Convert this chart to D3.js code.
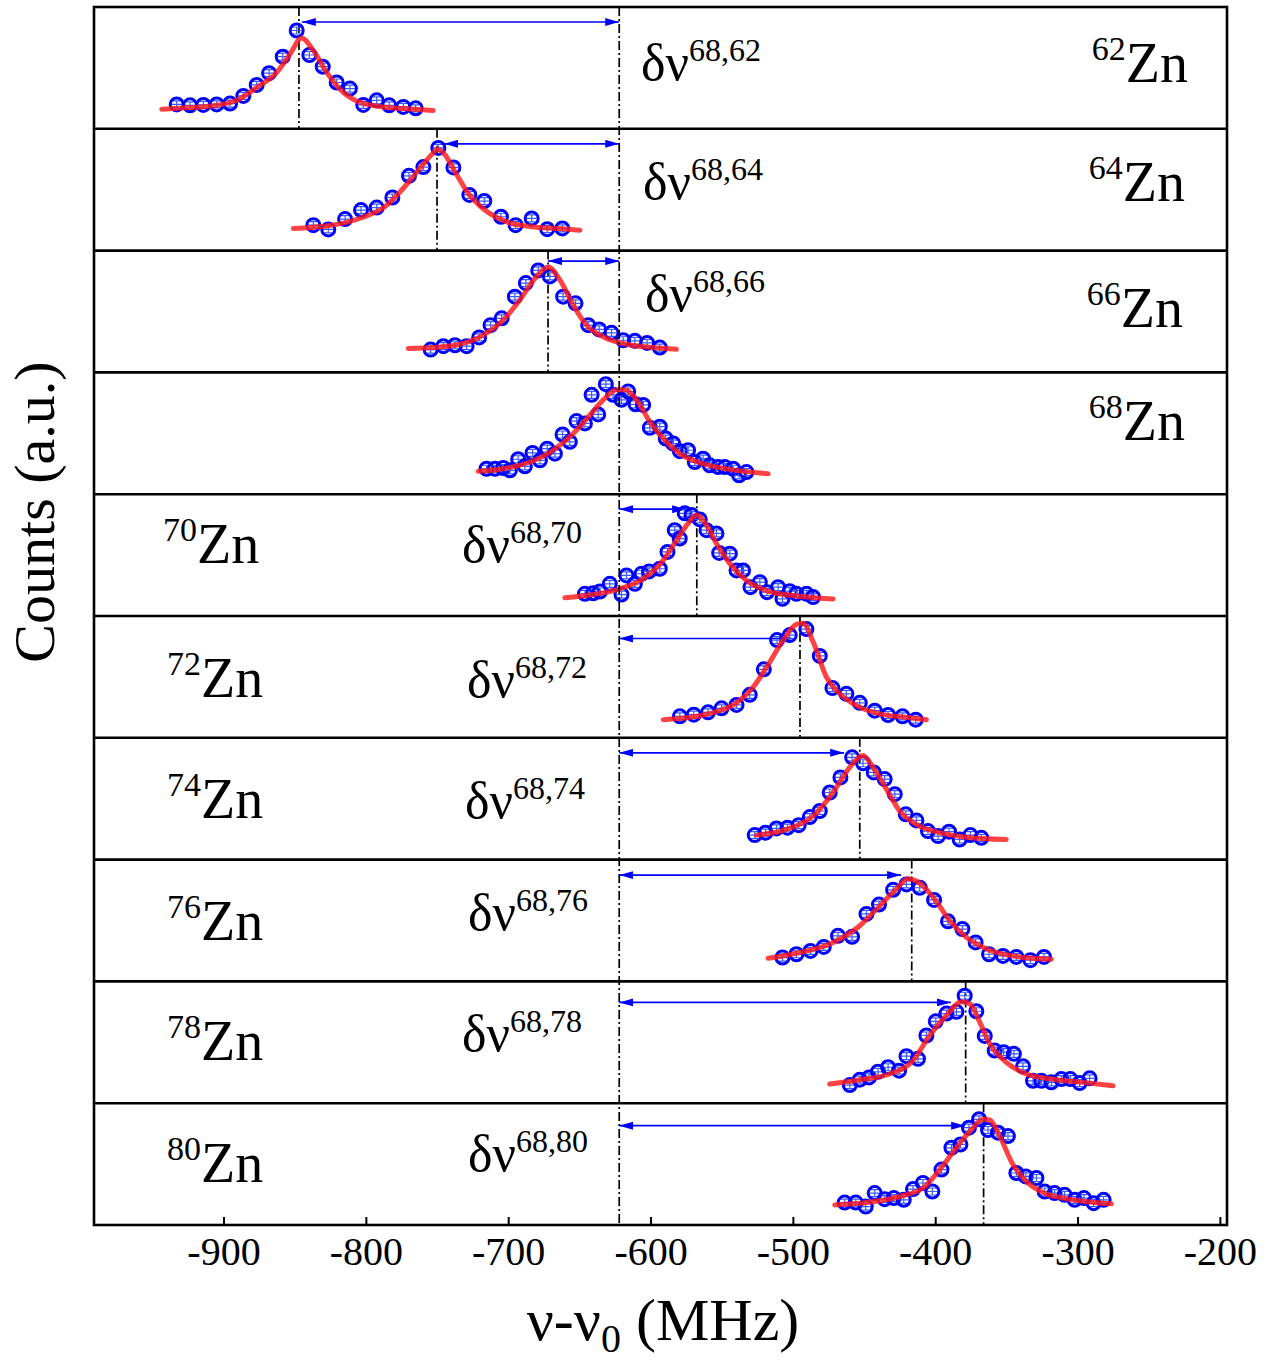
<!DOCTYPE html>
<html>
<head>
<meta charset="utf-8">
<script src="https://cdn.jsdelivr.net/npm/d3@7"></script>
<style>
  body { margin: 0; background: #fff; }
  svg { display: block; font-family: "Liberation Serif", "Times New Roman", serif; }
</style>
</head>
<body>
<div id="chart"></div>
<script>
// DATA
// isotopes, top panel to bottom panel
const isotopes = ['62', '64', '66', '68', '70', '72', '74', '76', '78', '80'];

// fitted peak centres (MHz) and the 68Zn reference
const peakCenters = [-847, -750, -672, -622, -567.5, -495, -453, -416.5, -378.6, -366];
const refCenter = -622;
// where each shift arrow stops on the peak side (MHz), null = no arrow
const arrowEnds = [-845, -745, -672, null, -575, -500, -464, -424, -389, -379];

// scan points [frequency MHz, counts a.u.]
const scan62 = [[-932.9,.200],[-923.5,.193],[-914.2,.196],[-904.8,.200],[-895.4,.207],[-886.1,.270],[-876.7,.360],[-868.0,.457],[-858.4,.592],[-848.6,.807],[-839.7,.606],[-830.3,.510],[-820.5,.380],[-811.2,.330],[-801.8,.196],[-792.4,.234],[-783.6,.193],[-773.7,.180],[-765.0,.168]];
const scan64 = [[-836.9,.209],[-826.4,.174],[-814.6,.259],[-803.4,.333],[-792.4,.353],[-781.4,.436],[-769.7,.614],[-759.6,.686],[-749.1,.843],[-738.5,.683],[-727.3,.457],[-716.8,.407],[-705.1,.278],[-694.8,.209],[-683.5,.264],[-672.6,.176],[-662.0,.182]];
const scan66 = [[-754.5,.187],[-745.6,.215],[-737.4,.223],[-729.2,.215],[-720.4,.287],[-712.4,.388],[-704.6,.444],[-695.3,.622],[-687.6,.733],[-678.9,.837],[-670.7,.788],[-661.4,.622],[-652.7,.567],[-643.8,.388],[-636.1,.353],[-627.4,.325],[-619.2,.264],[-611.0,.259],[-602.4,.242],[-593.5,.204]];
const scan68 = [[-715.2,.209],[-709.3,.209],[-703.5,.215],[-698.8,.196],[-693.0,.287],[-688.3,.229],[-682.9,.339],[-677.7,.278],[-672.6,.374],[-667.2,.333],[-661.8,.490],[-656.7,.430],[-652.0,.600],[-646.1,.581],[-641.4,.816],[-636.8,.655],[-631.4,.903],[-626.3,.816],[-620.4,.775],[-615.7,.843],[-610.5,.738],[-605.2,.733],[-600.5,.545],[-593.5,.554],[-589.3,.457],[-584.1,.416],[-579.4,.353],[-573.6,.361],[-568.9,.264],[-563.1,.292],[-558.4,.237],[-552.5,.223],[-547.8,.223],[-542.0,.209],[-537.8,.155],[-532.6,.182]];
const scan70 = [[-646.1,.182],[-640.3,.187],[-635.6,.201],[-628.6,.264],[-620.4,.176],[-616.9,.333],[-611.0,.264],[-606.3,.347],[-601.0,.366],[-593.5,.388],[-588.1,.526],[-583.0,.705],[-579.5,.636],[-576.0,.843],[-571.2,.829],[-565.4,.793],[-560.7,.705],[-553.7,.678],[-551.8,.518],[-544.3,.512],[-539.6,.374],[-535.0,.374],[-529.8,.237],[-523.2,.278],[-518.1,.196],[-510.4,.237],[-507.3,.141],[-502.2,.204],[-497.5,.182],[-490.4,.182],[-485.8,.155]];
const scan72 = [[-579.4,.176],[-569.6,.190],[-559.6,.209],[-550.1,.242],[-539.6,.270],[-530.3,.353],[-520.4,.562],[-511.1,.802],[-502.2,.843],[-490.5,.893],[-481.1,.672],[-472.2,.408],[-462.4,.361],[-453.0,.287],[-442.5,.223],[-433.1,.187],[-423.0,.176],[-413.7,.149]];
const scan74 = [[-526.8,.201],[-519.2,.221],[-511.5,.256],[-503.8,.262],[-495.9,.283],[-488.1,.349],[-481.1,.399],[-474.1,.551],[-466.6,.675],[-458.4,.840],[-450.7,.791],[-443.2,.716],[-435.5,.661],[-428.4,.537],[-420.7,.372],[-413.2,.322],[-405.1,.234],[-398.0,.193],[-390.3,.229],[-382.8,.165],[-375.3,.201],[-367.6,.179]];
const scan76 = [[-507.3,.196],[-497.5,.223],[-487.6,.250],[-478.3,.283],[-468.3,.374],[-458.4,.366],[-448.3,.554],[-439.5,.631],[-429.6,.752],[-420.2,.796],[-410.9,.769],[-400.8,.669],[-391.0,.493],[-380.9,.430],[-371.6,.320],[-362.2,.223],[-352.4,.209],[-343.0,.201],[-333.1,.174],[-323.6,.201]];
const scan78 = [[-460.0,.149],[-453.0,.193],[-446.5,.212],[-440.2,.258],[-433.1,.295],[-425.4,.267],[-420.2,.386],[-412.1,.364],[-406.2,.556],[-399.6,.672],[-392.1,.736],[-385.1,.750],[-379.3,.882],[-371.1,.755],[-365.2,.552],[-358.2,.432],[-351.9,.419],[-344.7,.405],[-338.3,.303],[-331.3,.184],[-325.4,.184],[-318.4,.171],[-311.4,.198],[-305.1,.198],[-298.5,.165],[-291.5,.204]];
const scan80 = [[-463.6,.184],[-455.8,.184],[-448.8,.151],[-442.5,.262],[-435.5,.212],[-429.1,.221],[-422.1,.207],[-415.6,.295],[-408.6,.345],[-402.0,.275],[-395.6,.455],[-388.6,.634],[-382.3,.661],[-376.3,.799],[-369.2,.868],[-362.9,.780],[-355.9,.758],[-348.9,.730],[-343.0,.427],[-336.4,.399],[-328.9,.386],[-323.1,.275],[-316.1,.262],[-309.1,.248],[-302.0,.207],[-295.5,.221],[-288.7,.179],[-281.7,.207]];

// fit curves [frequency MHz, counts a.u.]
const fit62 = [[-943.4,.160],[-923.5,.174],[-904.8,.193],[-890.7,.234],[-876.7,.339],[-862.6,.463],[-853.3,.614],[-845.1,.746],[-836.9,.642],[-827.5,.463],[-818.2,.325],[-806.5,.229],[-787.8,.179],[-769.1,.163],[-752.7,.151]];
const fit64 = [[-851.0,.182],[-826.4,.204],[-803.0,.270],[-786.6,.361],[-772.6,.526],[-760.9,.692],[-753.8,.788],[-749.6,.835],[-744.5,.788],[-737.5,.650],[-728.1,.471],[-716.4,.333],[-702.4,.242],[-683.6,.196],[-664.9,.182],[-649.6,.168]];
const fit66 = [[-770.2,.196],[-752.7,.204],[-734.0,.231],[-717.6,.306],[-703.5,.430],[-691.8,.595],[-680.1,.788],[-671.9,.865],[-663.7,.760],[-654.4,.554],[-645.0,.388],[-633.3,.292],[-616.9,.231],[-598.2,.204],[-581.8,.190]];
const fit68 = [[-721.0,.188],[-703.5,.209],[-684.7,.264],[-668.4,.361],[-654.3,.498],[-642.6,.650],[-633.2,.774],[-623.9,.857],[-618.0,.857],[-609.8,.774],[-600.5,.595],[-591.1,.457],[-579.4,.333],[-563.1,.250],[-544.4,.204],[-517.4,.168]];
const fit70 = [[-660.2,.149],[-640.3,.176],[-621.6,.223],[-605.2,.306],[-591.1,.457],[-581.7,.622],[-573.6,.760],[-567.7,.829],[-560.7,.746],[-553.7,.595],[-544.3,.430],[-532.6,.292],[-518.5,.209],[-499.8,.168],[-471.7,.140]];
const fit72 = [[-591.1,.149],[-572.4,.168],[-553.6,.215],[-539.6,.287],[-527.9,.416],[-516.2,.622],[-506.8,.802],[-497.5,.931],[-492.8,.940],[-485.8,.788],[-476.4,.498],[-467.0,.361],[-455.3,.264],[-438.9,.196],[-420.2,.168],[-406.2,.149]];
const fit74 = [[-525.6,.201],[-504.5,.248],[-485.8,.358],[-471.8,.551],[-460.1,.758],[-450.7,.854],[-443.7,.758],[-434.3,.579],[-425.0,.399],[-413.3,.289],[-396.9,.221],[-378.2,.184],[-350.1,.165]];
const fit76 = [[-517.4,.190],[-495.1,.237],[-471.7,.320],[-453.0,.457],[-438.9,.622],[-427.2,.760],[-419.1,.843],[-412.0,.816],[-401.5,.692],[-389.8,.498],[-378.1,.361],[-361.7,.256],[-340.7,.201],[-318.4,.182]];
const fit78 = [[-474.1,.157],[-453.0,.193],[-432.0,.240],[-415.6,.350],[-403.9,.556],[-392.1,.721],[-381.6,.832],[-375.8,.818],[-368.8,.667],[-361.7,.488],[-350.0,.336],[-336.0,.240],[-314.9,.193],[-296.2,.171],[-275.1,.143]];
const fit80 = [[-470.6,.165],[-448.3,.184],[-424.9,.234],[-408.6,.303],[-396.8,.455],[-385.1,.634],[-374.6,.785],[-366.4,.868],[-361.7,.862],[-354.7,.730],[-345.4,.496],[-336.0,.358],[-324.3,.267],[-305.5,.212],[-276.3,.174]];

const scans = [scan62, scan64, scan66, scan68, scan70, scan72, scan74, scan76, scan78, scan80];
const fits = [fit62, fit64, fit66, fit68, fit70, fit72, fit74, fit76, fit78, fit80];

const xTicks = [-900, -800, -700, -600, -500, -400, -300, -200];

//LAYOUT
const width = 1266, height = 1364;
const frame = {left: 94, right: 1227, top: 7, bottom: 1225};
// arrow height inside each panel (px from panel top)
const arrowOffset = [15, 15, 10.5, 0, 15, 22.5, 15, 15.5, 21, 22.5];
// isotope label: side, x, baseline from panel top
const zaLabel = [
  ['end', 1188, 75], ['end', 1185, 72], ['end', 1183, 76], ['end', 1185, 68],
  ['start', 163, 69], ['start', 167, 81], ['start', 167, 80], ['start', 167, 80], ['start', 167, 79], ['start', 167, 79]
];
// shift label x and baseline from panel top (none for 68)
const shiftLabel = [[641, 73], [643, 70], [645, 60], null, [462, 68], [467, 81], [465, 80], [468, 70], [462, 70], [468, 68]];

const svg = d3.select('#chart').append('svg')
  .attr('width', width)
  .attr('height', height);

const x = d3.scaleLinear().domain([-991, -195]).range([frame.left, frame.right]);
const band = d3.scaleBand().domain(isotopes).range([frame.top, frame.bottom]);
const bh = band.bandwidth();

// arrow heads
const defs = svg.append('defs');
['start', 'end'].forEach(k => {
  defs.append('marker')
    .attr('id', 'head-' + k)
    .attr('viewBox', '0 0 14 8')
    .attr('refX', 14).attr('refY', 4)
    .attr('markerUnits', 'userSpaceOnUse')
    .attr('markerWidth', 14).attr('markerHeight', 8)
    .attr('orient', k === 'start' ? 'auto-start-reverse' : 'auto')
    .append('path')
    .attr('d', 'M0,0 L14,4 L0,8 Z')
    .attr('fill', '#0000ff');
});

const dashDot = '9,3,2,3';

//PANELS
isotopes.forEach((iso, i) => {
  const top = band(iso);
  const y = d3.scaleLinear().domain([0, 1]).range([top + bh, top]);
  const g = svg.append('g');

  // dash-dot line at this peak (68 is the reference line itself)
  if (peakCenters[i] !== refCenter) {
    g.append('line')
      .attr('x1', x(peakCenters[i])).attr('x2', x(peakCenters[i]))
      .attr('y1', top).attr('y2', top + bh)
      .attr('stroke', '#000').attr('stroke-width', 1.7)
      .attr('stroke-dasharray', dashDot);
  }

  // shift arrow to the reference
  if (arrowEnds[i] !== null) {
    g.append('line')
      .attr('x1', x(arrowEnds[i])).attr('x2', x(refCenter))
      .attr('y1', top + arrowOffset[i]).attr('y2', top + arrowOffset[i])
      .attr('stroke', '#0000ff').attr('stroke-width', 1.7)
      .attr('marker-start', 'url(#head-start)')
      .attr('marker-end', 'url(#head-end)');
  }

  // scan points with small error bars
  const pts = g.append('g').selectAll('g').data(scans[i]).join('g')
    .attr('transform', d => `translate(${x(d[0])},${y(d[1])})`);
  pts.append('path')
    .attr('d', 'M-4,-3.5H4M-4,3.5H4M0,-3.5V3.5M-5,0H5')
    .attr('stroke', '#3a5cff').attr('stroke-width', 1.2).attr('fill', 'none');
  pts.append('circle')
    .attr('r', 6.5)
    .attr('fill', 'none')
    .attr('stroke', '#0000ff')
    .attr('stroke-width', 3);

  // fit curve
  g.append('path')
    .datum(fits[i])
    .attr('d', d3.line().x(d => x(d[0])).y(d => y(d[1])).curve(d3.curveMonotoneX))
    .attr('fill', 'none')
    .attr('stroke', '#ff1a1a')
    .attr('stroke-opacity', 0.82)
    .attr('stroke-width', 5)
    .attr('stroke-linecap', 'round');

  // isotope label
  const zl = zaLabel[i];
  const t = g.append('text')
    .attr('x', zl[1]).attr('y', top + zl[2])
    .attr('text-anchor', zl[0])
    .attr('font-size', 56);
  t.append('tspan').attr('font-size', 34).attr('dy', -22).text(iso);
  t.append('tspan').attr('dy', 22).text('Zn');

  // shift label
  if (shiftLabel[i]) {
    const s = g.append('text')
      .attr('x', shiftLabel[i][0]).attr('y', top + shiftLabel[i][1])
      .attr('font-size', 52);
    s.append('tspan').text('δν');
    s.append('tspan').attr('font-size', 32).attr('dy', -19).text('68,' + iso);
  }
});

// reference line through all panels
svg.append('line')
  .attr('x1', x(refCenter)).attr('x2', x(refCenter))
  .attr('y1', frame.top).attr('y2', frame.bottom)
  .attr('stroke', '#000').attr('stroke-width', 1.7)
  .attr('stroke-dasharray', dashDot);

// panel separators and outer frame
svg.append('g').selectAll('line').data(isotopes.slice(1)).join('line')
  .attr('x1', frame.left).attr('x2', frame.right)
  .attr('y1', d => band(d)).attr('y2', d => band(d))
  .attr('stroke', '#000').attr('stroke-width', 2.6);
svg.append('rect')
  .attr('x', frame.left).attr('y', frame.top)
  .attr('width', frame.right - frame.left).attr('height', frame.bottom - frame.top)
  .attr('fill', 'none').attr('stroke', '#000').attr('stroke-width', 2.6);

//AXIS
const axis = svg.append('g')
  .attr('transform', `translate(0,${frame.bottom})`)
  .call(d3.axisBottom(x).tickValues(xTicks).tickSize(-8).tickPadding(12).tickFormat(d => String(d)));
axis.select('.domain').remove();
axis.selectAll('line').attr('stroke-width', 2);
axis.selectAll('text')
  .attr('font-family', '"Liberation Serif", "Times New Roman", serif')
  .attr('font-size', 40)
  .attr('fill', '#000');

// axis titles
const xt = svg.append('text')
  .attr('x', 663).attr('y', 1340)
  .attr('text-anchor', 'middle')
  .attr('font-size', 60);
xt.append('tspan').text('ν-ν');
xt.append('tspan').attr('font-size', 40).attr('dy', 12).text('0');
xt.append('tspan').attr('dy', -12).text(' (MHz)');

svg.append('text')
  .attr('transform', 'translate(54,512) rotate(-90)')
  .attr('text-anchor', 'middle')
  .attr('font-size', 58)
  .text('Counts (a.u.)');
</script>
</body>
</html>
